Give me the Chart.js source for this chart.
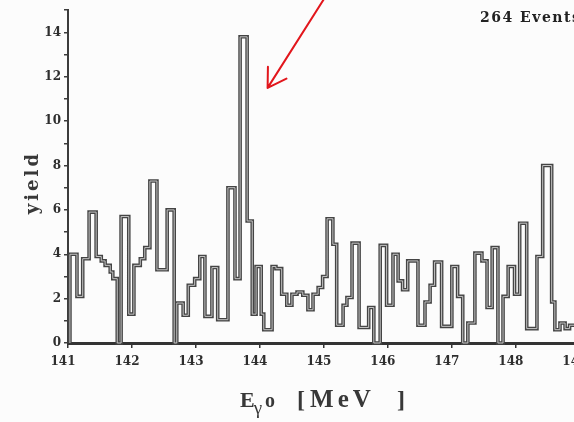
<!DOCTYPE html>
<html>
<head>
<meta charset="utf-8">
<script src="https://cdn.jsdelivr.net/npm/chart.js@4.4.1/dist/chart.umd.min.js"></script>
<style>
  html, body { margin: 0; padding: 0; background: #fcfcfc; overflow: hidden; }
  #wrap { position: relative; width: 620px; height: 422px; }
</style>
</head>
<body>
<div id="wrap"><canvas id="spectrum" width="620" height="422"></canvas></div>
<script>
// bin edges in MeV (one more than the yields)
const binEdges = [
  141.03, 141.14, 141.23, 141.33, 141.44, 141.52, 141.58, 141.66, 141.70, 141.77,
  141.83, 141.95, 142.03, 142.13, 142.20, 142.28, 142.39, 142.55, 142.66, 142.70,
  142.80, 142.88, 142.98, 143.06, 143.14, 143.25, 143.34, 143.50, 143.61, 143.69,
  143.80, 143.88, 143.94, 144.02, 144.06, 144.19, 144.25, 144.34, 144.42, 144.50,
  144.58, 144.67, 144.75, 144.83, 144.91, 144.98, 145.05, 145.14, 145.20, 145.30,
  145.36, 145.44, 145.55, 145.70, 145.78, 145.88, 145.98, 146.08, 146.16, 146.23,
  146.31, 146.47, 146.58, 146.66, 146.73, 146.84, 147.00, 147.09, 147.17, 147.25,
  147.36, 147.47, 147.55, 147.63, 147.72, 147.80, 147.88, 147.98, 148.06, 148.17,
  148.33, 148.42, 148.56, 148.61, 148.69, 148.77, 148.84, 149.16
];

// yield per bin
const yields = [
  4.0, 2.1, 3.8, 5.9, 3.9, 3.7, 3.5, 3.2, 2.9, 0,
  5.7, 1.3, 3.5, 3.8, 4.3, 7.3, 3.3, 6.0, 0, 1.8,
  1.25, 2.6, 2.9, 3.9, 1.2, 3.4, 1.05, 7.0, 2.9, 13.8,
  5.5, 1.3, 3.45, 1.3, 0.6, 3.45, 3.35, 2.2, 1.7, 2.2,
  2.3, 2.15, 1.5, 2.2, 2.5, 3.0, 5.6, 4.45, 0.8, 1.7,
  2.05, 4.5, 0.7, 1.6, 0, 4.4, 1.7, 4.0, 2.8, 2.4,
  3.7, 0.8, 1.85, 2.6, 3.65, 0.75, 3.45, 2.1, 0, 0.9,
  4.05, 3.7, 1.6, 4.3, 0, 2.1, 3.45, 2.2, 5.4, 0.65,
  3.9, 8.0, 1.85, 0.6, 0.9, 0.65, 0.8
];

const xMin = 141, xMax = 149.3;
const yMax = 15;
const eventLabel = "264 Events";
// pointer to the tall bin
const arrowTail = { x: 145.0, y: 15.5 };
const arrowHead = { x: 144.12, y: 11.5 };

// outline of the histogram as a stepped line
function stepPoints() {
  const pts = [{ x: binEdges[0], y: 0 }];
  yields.forEach((v, i) => pts.push({ x: binEdges[i], y: v }));
  pts.push({ x: binEdges[binEdges.length - 1], y: yields[yields.length - 1] });
  return pts;
}

const tickFont = { family: '"DejaVu Serif"', size: 12, weight: 'bold' };

const decorations = {
  id: 'decorations',
  afterDraw(chart) {
    const { ctx, chartArea, scales: { x, y } } = chart;
    ctx.save();
    ctx.fillStyle = '#383838';

    // y title
    ctx.save();
    ctx.font = 'bold 18px "DejaVu Serif"';
    ctx.letterSpacing = '3px';
    ctx.translate(38, (chartArea.top + chartArea.bottom) / 2 + 6);
    ctx.rotate(-Math.PI / 2);
    ctx.textAlign = 'center';
    ctx.fillText('yield', 0, 0);
    ctx.restore();

    // x title: E, subscript gamma, o, [ MeV ]
    let cx = 240;
    const base = 407;
    ctx.textAlign = 'left';
    ctx.font = 'bold 22px "Liberation Serif"';
    ctx.fillText('E', cx, base);
    cx += ctx.measureText('E').width - 1;
    ctx.font = '19px "Liberation Serif"';
    ctx.fillText('γ', cx, base + 7);
    cx += ctx.measureText('γ').width + 3;
    ctx.font = 'bold 20px "Liberation Serif"';
    ctx.fillText('o', cx, base);
    cx += ctx.measureText('o').width + 22;
    ctx.font = 'bold 24px "Liberation Serif"';
    ctx.fillText('[', cx, base);
    ctx.font = 'bold 25px "Liberation Serif"';
    ctx.letterSpacing = '4px';
    ctx.fillText('MeV', cx + 13, base);
    ctx.letterSpacing = '0px';
    ctx.font = 'bold 24px "Liberation Serif"';
    ctx.fillText(']', cx + 100, base);

    // event count, top right
    ctx.font = 'bold 14px "DejaVu Serif"';
    ctx.letterSpacing = '1.5px';
    ctx.fillStyle = '#222';
    ctx.fillText(eventLabel, 480, 22);

    // red arrow
    const tail = { x: x.getPixelForValue(arrowTail.x), y: y.getPixelForValue(arrowTail.y) };
    const tip = { x: x.getPixelForValue(arrowHead.x), y: y.getPixelForValue(arrowHead.y) };
    const ang = Math.atan2(tail.y - tip.y, tail.x - tip.x);
    ctx.strokeStyle = '#e2161c';
    ctx.lineWidth = 2;
    ctx.lineCap = 'round';
    ctx.beginPath();
    ctx.moveTo(tail.x, tail.y);
    ctx.lineTo(tip.x, tip.y);
    for (const d of [-0.55, 0.55]) {
      ctx.moveTo(tip.x, tip.y);
      ctx.lineTo(tip.x + 21 * Math.cos(ang + d), tip.y + 21 * Math.sin(ang + d));
    }
    ctx.stroke();
    ctx.restore();
  }
};

new Chart(document.getElementById('spectrum'), {
  type: 'line',
  data: {
    datasets: [
      {
        data: stepPoints(),
        stepped: true,
        borderColor: '#c4c4c4',
        borderWidth: 1,
        pointRadius: 0,
        fill: false,
        clip: false,
        order: 0
      },
      {
        data: stepPoints(),
        stepped: true,
        borderColor: '#444',
        borderWidth: 3.6,
        borderJoinStyle: 'miter',
        pointRadius: 0,
        fill: false,
        clip: false,
        order: 1
      }
    ]
  },
  options: {
    responsive: false,
    animation: false,
    layout: { padding: { top: 8, right: 21, left: 0, bottom: 0 } },
    scales: {
      x: {
        type: 'linear',
        min: xMin,
        max: xMax,
        afterFit: s => { s.height = 79; },
        border: { color: '#333', width: 3 },
        grid: { drawOnChartArea: false, tickLength: 5, color: '#333', lineWidth: 1.5 },
        ticks: {
          stepSize: 1,
          includeBounds: false,
          autoSkip: false,
          maxRotation: 0,
          labelOffset: -5,
          padding: 7,
          color: '#2e2e2e',
          font: tickFont,
          callback: v => Number.isInteger(v) ? v : ''
        }
      },
      y: {
        min: 0,
        max: yMax,
        afterFit: s => { s.width = 68; },
        border: { color: '#3c3c3c', width: 2 },
        grid: { drawOnChartArea: false, tickLength: 4, color: '#3c3c3c', lineWidth: 1.5 },
        ticks: {
          stepSize: 1,
          autoSkip: false,
          padding: 3,
          color: '#2e2e2e',
          font: tickFont,
          callback: v => v % 2 === 0 ? v : ''
        }
      }
    },
    plugins: {
      legend: { display: false },
      tooltip: { enabled: false }
    }
  },
  plugins: [decorations]
});
</script>
</body>
</html>
